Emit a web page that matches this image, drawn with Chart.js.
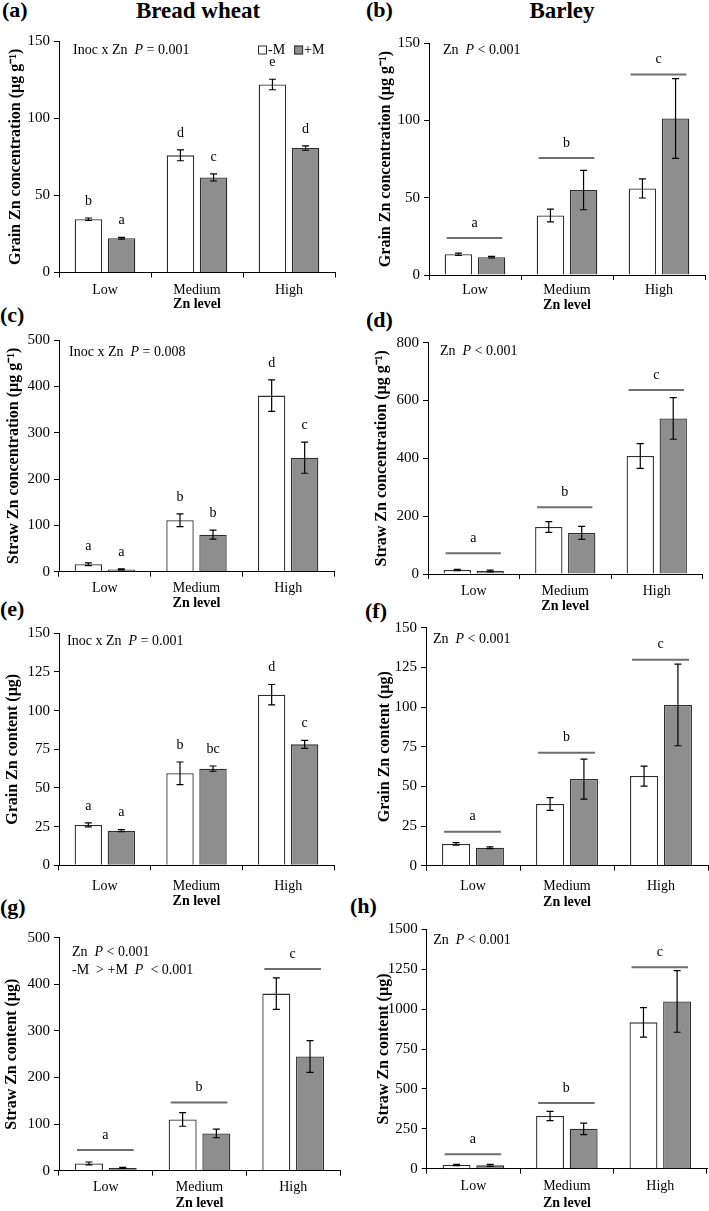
<!DOCTYPE html>
<html>
<head>
<meta charset="utf-8">
<script src="https://cdn.jsdelivr.net/npm/chart.js@4.4.1/dist/chart.umd.min.js"></script>
<style>
  body { margin: 0; background: #fff; width: 709px; height: 1211px; position: relative; overflow: hidden; font-family: "Liberation Serif", "Times New Roman", serif; }
  canvas { position: absolute; }
  .hd { position: absolute; font-weight: bold; line-height: 1; white-space: nowrap; color: #000; }
</style>
</head>
<body>
<script>
const znLevels = ['Low', 'Medium', 'High'];
const seriesNames = ['-M', '+M'];

// (a) bread wheat, grain Zn concentration
const aMinus = [34.5, 75.9, 121.8];
const aMinusErr = [0.8, 3.5, 3.4];
const aPlus = [22.2, 61.6, 80.6];
const aPlusErr = [0.6, 2.3, 1.4];
const aLetters = [['b', 'd', 'e'], ['a', 'c', 'd']];

// (b) barley, grain Zn concentration
const bMinus = [13.4, 38.5, 56];
const bMinusErr = [0.8, 4.1, 6.2];
const bPlus = [11.5, 54.9, 101.2];
const bPlusErr = [0.5, 12.7, 25.8];
const bSig = [24, 75.6, 129.7];
const bSigLetters = ['a', 'b', 'c'];

// (c) bread wheat, straw Zn concentration
const cMinus = [16, 111, 380];
const cMinusErr = [3, 13.7, 34];
const cPlus = [5, 80, 246];
const cPlusErr = [1, 9.7, 33.5];
const cLetters = [['a', 'b', 'd'], ['a', 'b', 'c']];

// (d) barley, straw Zn concentration
const dMinus = [13.8, 162.5, 408];
const dMinusErr = [2, 18.5, 43];
const dPlus = [10.4, 142, 538];
const dPlusErr = [3, 22.5, 72];
const dSig = [71.5, 230.5, 636];
const dSigLetters = ['a', 'b', 'c'];

// (e) bread wheat, grain Zn content
const eMinus = [26.1, 59.5, 110.3];
const eMinusErr = [1.3, 7.3, 6.6];
const ePlus = [22.4, 62.5, 78.2];
const ePlusErr = [0.7, 1.7, 2.6];
const eLetters = [['a', 'b', 'd'], ['a', 'bc', 'c']];

// (f) barley, grain Zn content
const fMinus = [13.7, 38.9, 56.5];
const fMinusErr = [0.8, 4, 6.3];
const fPlus = [11.3, 54.6, 101.3];
const fPlusErr = [0.6, 12.6, 25.7];
const fSig = [21.4, 71.2, 129.8];
const fSigLetters = ['a', 'b', 'c'];

// (g) bread wheat, straw Zn content
const gMinus = [15.7, 110, 380];
const gMinusErr = [3, 14.6, 34];
const gPlus = [6, 80, 245];
const gPlusErr = [1, 9.3, 34];
const gSig = [44.3, 146.6, 432.8];
const gSigLetters = ['a', 'b', 'c'];

// (h) barley, straw Zn content
const hMinus = [23, 330, 917];
const hMinusErr = [4, 29, 92];
const hPlus = [21, 250, 1048];
const hPlusErr = [6, 36, 193];
const hSig = [90, 411.6, 1262];
const hSigLetters = ['a', 'b', 'c'];

const SERIF = '"Liberation Serif", "Times New Roman", serif';

const panels = [
  { minus: aMinus, minusErr: aMinusErr, plus: aPlus, plusErr: aPlusErr, letters: aLetters,
    yMax: 150, yStep: 50, yTitle: 'Grain Zn concentration (µg g⁻¹)',
    note: [[['Inoc x Zn  '], ['P', 1], [' = 0.001']]], legend: true,
    area: [59, 41, 335, 272.5], tickY: 290, titleY: 304, yTitleX: 16, noteAt: [14, 9] },
  { minus: bMinus, minusErr: bMinusErr, plus: bPlus, plusErr: bPlusErr, sig: bSig, sigLetters: bSigLetters,
    yMax: 150, yStep: 50, yTitle: 'Grain Zn concentration (µg g⁻¹)',
    note: [[['Zn  '], ['P', 1], [' < 0.001']]],
    area: [429, 43, 705, 275], tickY: 290, titleY: 305, yTitleX: 386, noteAt: [14, 7] },
  { minus: cMinus, minusErr: cMinusErr, plus: cPlus, plusErr: cPlusErr, letters: cLetters,
    yMax: 500, yStep: 100, yTitle: 'Straw Zn concentration (µg g⁻¹)',
    note: [[['Inoc x Zn  '], ['P', 1], [' = 0.008']]],
    area: [59, 340, 334, 571.7], tickY: 588.3, titleY: 603, yTitleX: 13.5, noteAt: [10, 12] },
  { minus: dMinus, minusErr: dMinusErr, plus: dPlus, plusErr: dPlusErr, sig: dSig, sigLetters: dSigLetters,
    yMax: 800, yStep: 200, yTitle: 'Straw Zn concentration (µg g⁻¹)',
    note: [[['Zn  '], ['P', 1], [' < 0.001']]],
    area: [428, 342.7, 702.5, 574], tickY: 591.7, titleY: 606, yTitleX: 382, noteAt: [12, 9] },
  { minus: eMinus, minusErr: eMinusErr, plus: ePlus, plusErr: ePlusErr, letters: eLetters,
    yMax: 150, yStep: 25, yTitle: 'Grain Zn content (µg)',
    note: [[['Inoc x Zn  '], ['P', 1], [' = 0.001']]],
    area: [59, 633.3, 334, 865.3], tickY: 886.7, titleY: 900.5, yTitleX: 12.5, noteAt: [8, 8.5] },
  { minus: fMinus, minusErr: fMinusErr, plus: fPlus, plusErr: fPlusErr, sig: fSig, sigLetters: fSigLetters,
    yMax: 150, yStep: 25, yTitle: 'Grain Zn content (µg)',
    note: [[['Zn  '], ['P', 1], [' < 0.001']]],
    area: [426, 627.7, 708, 865.7], tickY: 886.7, titleY: 902, yTitleX: 385, noteAt: [7, 12] },
  { minus: gMinus, minusErr: gMinusErr, plus: gPlus, plusErr: gPlusErr, sig: gSig, sigLetters: gSigLetters,
    yMax: 500, yStep: 100, yTitle: 'Straw Zn content (µg)',
    note: [[['Zn  '], ['P', 1], [' < 0.001']], [['-M  > +M  '], ['P', 1], ['  < 0.001']]],
    area: [59, 937.7, 340, 1170.7], tickY: 1187.3, titleY: 1203.3, yTitleX: 12, noteAt: [13, 15] },
  { minus: hMinus, minusErr: hMinusErr, plus: hPlus, plusErr: hPlusErr, sig: hSig, sigLetters: hSigLetters,
    yMax: 1500, yStep: 250, yTitle: 'Straw Zn content (µg)',
    note: [[['Zn  '], ['P', 1], [' < 0.001']]],
    area: [426.7, 929.3, 707, 1168.7], tickY: 1186, titleY: 1203.3, yTitleX: 384, noteAt: [6.5, 11.5] }
];

const headers = [
  ['(a)', 2, 17, 22], ['Bread wheat', 198, 18.5, 23, true], ['(b)', 366, 17.7, 22], ['Barley', 562, 18.5, 23, true],
  ['(c)', 0, 322, 22], ['(d)', 366, 327, 22],
  ['(e)', 0, 616, 22], ['(f)', 365, 618, 22],
  ['(g)', 0, 914, 22], ['(h)', 350, 913, 22]
];

headers.forEach(([t, x, base, size, center]) => {
  const d = document.createElement('div');
  d.className = 'hd';
  d.textContent = t;
  d.style.fontSize = size + 'px';
  d.style.top = (base - 0.8375 * size) + 'px';
  d.style.left = x + 'px';
  if (center) d.style.transform = 'translateX(-50%)';
  document.body.appendChild(d);
});

const decor = {
  id: 'decor',
  afterDatasetsDraw(chart, args, o) {
    const ctx = chart.ctx;
    const y = chart.scales.y;
    const ca = chart.chartArea;
    ctx.save();
    ctx.textAlign = 'center';
    ctx.textBaseline = 'middle';
    ctx.fillStyle = '#000';
    const metas = chart.data.datasets.map((ds, i) => chart.getDatasetMeta(i));

    // error bars and per-bar letters
    chart.data.datasets.forEach((ds, i) => {
      metas[i].data.forEach((bar, j) => {
        const v = ds.data[j], e = o.errors[i][j];
        const top = y.getPixelForValue(v + e);
        const bot = y.getPixelForValue(v - e);
        ctx.strokeStyle = '#000';
        ctx.lineWidth = 1.2;
        ctx.beginPath();
        ctx.moveTo(bar.x, top); ctx.lineTo(bar.x, bot);
        ctx.moveTo(bar.x - 3.5, top); ctx.lineTo(bar.x + 3.5, top);
        ctx.moveTo(bar.x - 3.5, bot); ctx.lineTo(bar.x + 3.5, bot);
        ctx.stroke();
        if (o.letters) {
          ctx.font = '14px ' + SERIF;
          ctx.fillText(o.letters[i][j], bar.x, top - 17);
        }
      });
    });

    // significance lines over each Zn level
    if (o.sig) {
      o.sig.forEach((s, j) => {
        const b0 = metas[0].data[j], b1 = metas[1].data[j];
        const x0 = b0.x - b0.width / 2 + 2;
        const x1 = b1.x + b1.width / 2 - 3;
        const py = y.getPixelForValue(s);
        ctx.strokeStyle = '#6e6e6e';
        ctx.lineWidth = 2;
        ctx.beginPath();
        ctx.moveTo(x0, py); ctx.lineTo(x1, py);
        ctx.stroke();
        ctx.font = '14px ' + SERIF;
        ctx.fillText(o.sigLetters[j], (x0 + x1) / 2, py - 15);
      });
    }

    // statistics note
    ctx.textAlign = 'left';
    o.note.forEach((line, k) => {
      let x = ca.left + o.noteAt[0];
      const ly = ca.top + o.noteAt[1] + k * 18;
      line.forEach(([t, it]) => {
        ctx.font = (it ? 'italic ' : '') + '14px ' + SERIF;
        ctx.fillText(t, x, ly);
        x += ctx.measureText(t).width;
      });
    });

    // legend inside chart area
    if (o.legend) {
      let x = ca.right - 77;
      const ly = ca.top + 9;
      ctx.font = '14px ' + SERIF;
      chart.data.datasets.forEach((ds) => {
        ctx.fillStyle = ds.backgroundColor;
        ctx.fillRect(x, ly - 4.5, 9, 9);
        ctx.strokeStyle = ds.borderColor;
        ctx.lineWidth = 1;
        ctx.strokeRect(x + 0.5, ly - 4, 8, 8);
        ctx.fillStyle = '#000';
        ctx.fillText(ds.label, x + 10, ly);
        x += 10 + ctx.measureText(ds.label).width + 9;
      });
    }
    ctx.restore();
  }
};

panels.forEach((p) => {
  const onRight = p.area[0] > 300;
  const cLeft = onRight ? 355 : 0;
  const cW = onRight ? 354 : 350;
  const cTop = Math.round(p.area[1]) - 16;
  const cBottom = Math.round(p.titleY + 9);
  const cH = cBottom - cTop;
  const canvas = document.createElement('canvas');
  canvas.width = cW;
  canvas.height = cH;
  canvas.style.left = cLeft + 'px';
  canvas.style.top = cTop + 'px';
  document.body.appendChild(canvas);

  const yW = p.area[0] - cLeft;
  const xH = cBottom - p.area[3];
  const padTop = p.area[1] - cTop;
  const padRight = cW - (p.area[2] - cLeft);
  const tickPad = p.tickY - p.area[3] - 5 - 8.4;
  const titlePad = Math.max(0, p.yTitleX - cLeft - 9.6);

  new Chart(canvas, {
    type: 'bar',
    data: {
      labels: znLevels,
      datasets: [
        { label: seriesNames[0], data: p.minus, backgroundColor: '#ffffff', borderColor: '#2e2e2e',
          borderWidth: 1.3, categoryPercentage: 0.72, barPercentage: 0.83 },
        { label: seriesNames[1], data: p.plus, backgroundColor: '#8e8e8e', borderColor: '#2e2e2e',
          borderWidth: 1.3, categoryPercentage: 0.72, barPercentage: 0.83 }
      ]
    },
    options: {
      responsive: false,
      animation: false,
      devicePixelRatio: 1,
      layout: { padding: { top: padTop, right: padRight, left: 0, bottom: 0 } },
      plugins: {
        legend: { display: false },
        tooltip: { enabled: false },
        decor: {
          errors: [p.minusErr, p.plusErr],
          letters: p.letters, sig: p.sig, sigLetters: p.sigLetters,
          note: p.note, noteAt: p.noteAt, legend: p.legend
        }
      },
      scales: {
        x: {
          offset: true,
          grid: { offset: true, drawOnChartArea: false, tickLength: 5, color: '#000' },
          border: { color: '#000', width: 1 },
          ticks: { color: '#000', font: { family: SERIF, size: 14 }, padding: tickPad, maxRotation: 0, autoSkip: false },
          title: { display: true, text: 'Zn level', color: '#000', font: { family: SERIF, size: 14, weight: 'bold' }, padding: 0 },
          afterFit(s) { s.height = xH; }
        },
        y: {
          min: 0,
          max: p.yMax,
          ticks: { stepSize: p.yStep, color: '#000', font: { family: SERIF, size: 15 }, padding: 4,
                   callback: (v) => String(v) },
          grid: { drawOnChartArea: false, tickLength: 5, color: '#000' },
          border: { color: '#000', width: 1 },
          title: { display: true, text: p.yTitle, color: '#000', font: { family: SERIF, size: 16, weight: 'bold' }, padding: { top: titlePad, bottom: 0 } },
          afterFit(s) { s.width = yW; }
        }
      }
    },
    plugins: [decor]
  });
});
</script>
</body>
</html>
